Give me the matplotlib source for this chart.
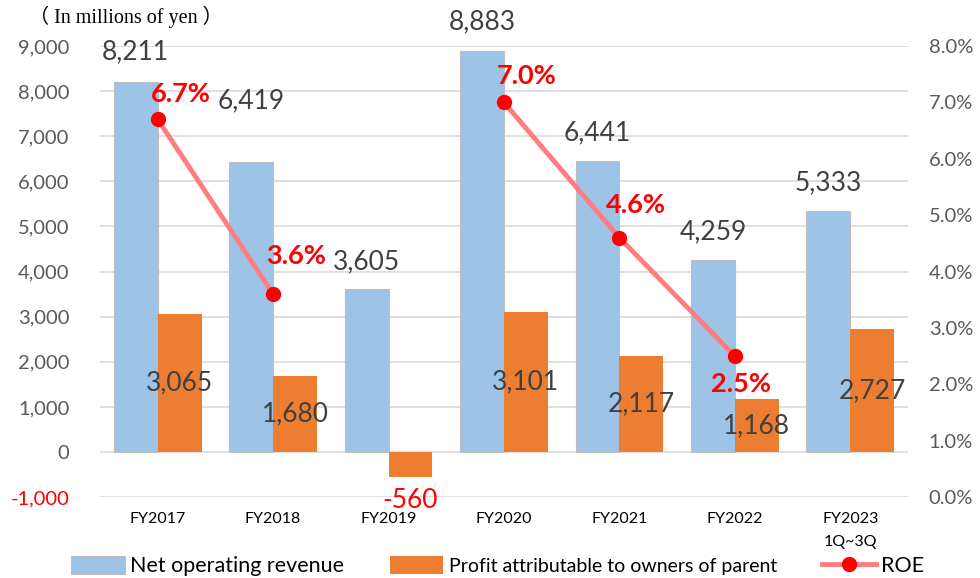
import matplotlib
matplotlib.use("Agg")
import matplotlib.pyplot as plt
import numpy as np
from matplotlib.lines import Line2D
from matplotlib.patches import Patch
from matplotlib.ticker import FuncFormatter

# values
years = ["FY2017", "FY2018", "FY2019", "FY2020", "FY2021", "FY2022", "FY2023\n1Q~3Q"]
revenue = [8211, 6419, 3605, 8883, 6441, 4259, 5333]
profit = [3065, 1680, -560, 3101, 2117, 1168, 2727]
roe = [6.7, 3.6, np.nan, 7.0, 4.6, 2.5, np.nan]

BLUE = "#9DC3E6"
ORANGE = "#ED7D31"
PINK = "#FF7C80"
RED = "#FF0000"
GREY_TXT = "#595959"
LABEL_TXT = "#404040"

plt.rcParams["font.family"] = ["Lato", "DejaVu Sans"]

fig = plt.figure(figsize=(9.8, 5.78), dpi=100)
ax = fig.add_axes([0.102, 0.140, 0.8245, 0.7803])

x = np.arange(len(years))
w = 0.38
bars_rev = ax.bar(x - w / 2, revenue, w, color=BLUE, edgecolor="#BFBFBF", linewidth=0.8, zorder=2)
bars_pro = ax.bar(x + w / 2, profit, w, color=ORANGE, zorder=2)

ax.set_xlim(-0.5, 6.5)
ax.set_ylim(-1000, 9000)
ax.set_yticks(np.arange(-1000, 9001, 1000))
ax.yaxis.set_major_formatter(FuncFormatter(lambda v, p: f"{v:,.0f}"))
ax.grid(axis="y", color="#D9D9D9", linewidth=1.2, zorder=0)
ax.set_axisbelow(True)
for s in ax.spines.values():
    s.set_visible(False)
ax.set_xticks(x)
ax.set_xticklabels(years, fontsize=11.5, color="black", linespacing=1.8, va="top")
ax.tick_params(axis="x", length=0, pad=11)
ax.tick_params(axis="y", length=0, pad=22, labelsize=14.5, labelcolor=GREY_TXT)
for t in ax.get_yticklabels():
    if t.get_text().startswith("-"):
        t.set_color("red")

ax2 = ax.twinx()
ax2.set_ylim(0, 8)
ax2.set_yticks(np.arange(0, 8.01, 1))
ax2.yaxis.set_major_formatter(FuncFormatter(lambda v, p: f"{v:.1f}%"))
ax2.tick_params(axis="y", length=0, pad=15, labelsize=14.5, labelcolor=GREY_TXT)
for s in ax2.spines.values():
    s.set_visible(False)
ax2.plot(x, roe, color=PINK, linewidth=3.5, marker="o", markersize=10,
         markerfacecolor=RED, markeredgecolor=RED, zorder=5)

# data labels for revenue: above bars (FY2018 pushed up)
rev_dy = [30, 62, 28, 30, 29, 28, 29]
for b, v, dy in zip(bars_rev, revenue, rev_dy):
    ax.annotate(f"{v:,}", (b.get_x() + b.get_width() / 2, v), xytext=(0, dy),
                textcoords="offset pixels", ha="center", va="center",
                fontsize=19, color=LABEL_TXT, zorder=6)

# data labels for profit: centre of bar, negative one below
for b, v in zip(bars_pro, profit):
    cx = b.get_x() + b.get_width() / 2
    if v < 0:
        ax.annotate(f"{v:,}", (cx, v), xytext=(0, -23), textcoords="offset pixels",
                    ha="center", va="center", fontsize=19, color="red", zorder=6)
    else:
        ax.annotate(f"{v:,}", (cx, v / 2), ha="center", va="center",
                    fontsize=19, color=LABEL_TXT, zorder=6)

# ROE labels
roe_off = [(23, 25), (23, 38), None, (23, 26), (17, 33), (6, -28)]
for xi, r, off in zip(x, roe, roe_off):
    if off is None or np.isnan(r):
        continue
    ax2.annotate(f"{r:.1f}%", (xi, r), xytext=off, textcoords="offset pixels",
                 ha="center", va="center", fontsize=19.5, fontweight="bold",
                 color=RED, zorder=7)

fig.text(0.030, 0.970, "（ In millions of yen ）", fontsize=14.5,
         family=["Liberation Serif", "Noto Sans CJK JP"], ha="left", va="center")

handles = [
    Patch(facecolor=BLUE, edgecolor="#BFBFBF", linewidth=0.8),
    Patch(facecolor=ORANGE),
    Line2D([], [], color=PINK, linewidth=3.5, marker="o", markersize=10,
           markerfacecolor=RED, markeredgecolor=RED),
]
labels = ["Net operating revenue", "Profit attributable to owners of parent", "ROE"]
leg = fig.legend(handles, labels, loc="center", bbox_to_anchor=(0.508, 0.021), ncol=3,
                 frameon=False, fontsize=15.5, handlelength=2.5, handleheight=0.9,
                 handletextpad=0.25, columnspacing=2.1, borderpad=0)
leg.get_texts()[1].set_fontsize(14)

fig.savefig("out.png", dpi=100)
